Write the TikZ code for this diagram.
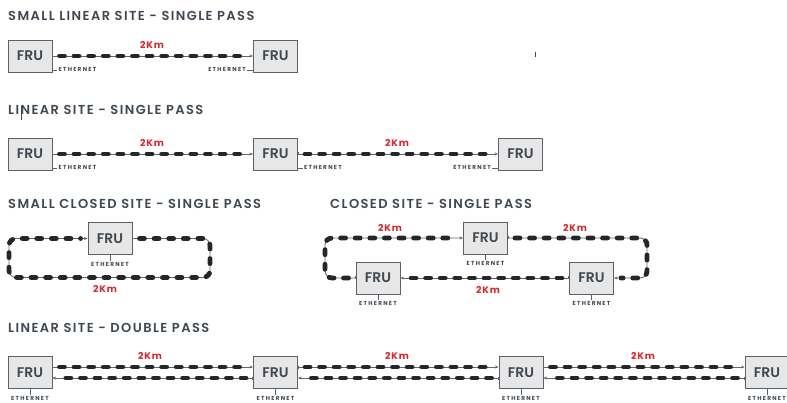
\documentclass[tikz,border=0pt]{standalone}
\usepackage{fontspec}
\setmainfont{Poppins}
\newfontfamily\titlefont[LetterSpace=11]{Poppins SemiBold}
\newfontfamily\frufont{Poppins SemiBold}
\newfontfamily\ethfont[LetterSpace=22]{Poppins}
\newfontfamily\kmfont[LetterSpace=8]{Poppins}
\usetikzlibrary{arrows.meta,positioning}
\definecolor{ink}{HTML}{3F4851}
\definecolor{frame}{HTML}{5A6168}
\definecolor{boxfill}{HTML}{E7E7E7}
\definecolor{wire}{HTML}{5F666C}
\definecolor{kmred}{HTML}{D7262C}

\begin{document}
\begin{tikzpicture}[x=1pt,y=-1pt,
    fru/.style={draw=frame, fill=boxfill, line width=0.9pt, minimum width=44pt,
      minimum height=32pt, inner sep=0pt, text=ink, font=\frufont\fontsize{14}{15}\selectfont},
    title/.style={anchor=base west, inner sep=0pt, text=ink,
      font=\titlefont\fontsize{13}{14}\selectfont},
    eth/.style={inner sep=1pt, text=ink, font=\ethfont\bfseries\fontsize{5.8}{6}\selectfont},
    km/.style={inner sep=0pt, text=kmred, font=\kmfont\bfseries\fontsize{9.5}{10}\selectfont},
    tick/.style={draw=frame, line width=0.7pt},
    cable/.style={draw=wire, line width=0.8pt,
      {Bar[width=3pt,line width=0.6pt]}-{Stealth[length=3.5pt,width=3pt]},
      postaction={draw=black!85, -, line width=4.8pt, line cap=round,
        dash pattern=on 5pt off 9.6pt, shorten <=7pt, shorten >=7pt}},
  ]
  \useasboundingbox (0,0) rectangle (787,403);

  % small linear site
  \node[title] (t1) at (8,21) {SMALL LINEAR SITE - SINGLE PASS};
  \node[fru] (a1) at (30,56) {FRU};
  \node[fru] (a2) at (275.5,56) {FRU};
  \draw[cable] (a1) -- (a2);
  \node[km] (k1) at (152,45) {2Km};
  \node[eth, anchor=west] (ea1) at ([xshift=5pt,yshift=2.5pt]a1.south east) {ETHERNET};
  \node[eth, anchor=east] (ea2) at ([xshift=-6pt,yshift=2.5pt]a2.south west) {ETHERNET};
  \draw[tick] (a1.east |- ea1.west) -- (ea1.west);
  \draw[tick] (ea2.east) -- (a2.west |- ea2.east);
  \draw[ink, line width=0.8pt] (535,52) -- (535,57);

  % linear site
  \node[title] (t2) at (8,115) {LINEAR SITE - SINGLE PASS};
  \draw[ink, line width=0.6pt] (21,106) -- (21,120);
  \node[fru] (b1) at (30,154) {FRU};
  \node[fru] (b2) at (275.5,154) {FRU};
  \node[fru] (b3) at (520.5,154) {FRU};
  \draw[cable] (b1) -- (b2);
  \draw[cable] (b2) -- (b3);
  \node[km] (k2) at (152,143) {2Km};
  \node[km] (k3) at (397,143) {2Km};
  \node[eth, anchor=west] (eb1) at ([xshift=5pt,yshift=2.5pt]b1.south east) {ETHERNET};
  \node[eth, anchor=west] (eb2) at ([xshift=5pt,yshift=2.5pt]b2.south east) {ETHERNET};
  \node[eth, anchor=east] (eb3) at ([xshift=-6pt,yshift=2.5pt]b3.south west) {ETHERNET};
  \draw[tick] (b1.east |- eb1.west) -- (eb1.west);
  \draw[tick] (b2.east |- eb2.west) -- (eb2.west);
  \draw[tick] (eb3.east) -- (b3.west |- eb3.east);

  % small closed site
  \node[title] (t3) at (8,209) {SMALL CLOSED SITE - SINGLE PASS};
  \node[fru] (c1) at (110,238.5) {FRU};
  \draw[cable, rounded corners=7pt] (c1.east) -- (210,238.5) -- (210,277.5)
    -- (9,277.5) -- (9,238.5) -- (c1.west);
  \node[km] (k4) at (105,289) {2Km};
  \node[eth, below=6pt of c1] (ec1) {ETHERNET};
  \draw[tick] (c1.south) -- (ec1.north);

  % closed site
  \node[title] (t4) at (330,209) {CLOSED SITE - SINGLE PASS};
  \node[fru] (d1) at (485.5,238) {FRU};
  \node[fru] (d2) at (378,278) {FRU};
  \node[fru] (d3) at (591.5,278) {FRU};
  \draw[cable, rounded corners=7pt] (d1.east) -- (647,238) -- (647,278) -- (d3.east);
  \draw[cable] (d3.west) -- (d2.east);
  \draw[cable, rounded corners=7pt] (d2.west) -- (325,278) -- (325,238) -- (d1.west);
  \node[km] (k5) at (390,228) {2Km};
  \node[km] (k6) at (575,228) {2Km};
  \node[km] (k7) at (488,290) {2Km};
  \node[eth, below=6pt of d1] (ed1) {ETHERNET};
  \node[eth, below=6pt of d2] (ed2) {ETHERNET};
  \node[eth, below=6pt of d3] (ed3) {ETHERNET};
  \draw[tick] (d1.south) -- (ed1.north);
  \draw[tick] (d2.south) -- (ed2.north);
  \draw[tick] (d3.south) -- (ed3.north);

  % linear site, double pass
  \node[title] (t5) at (8,332) {LINEAR SITE - DOUBLE PASS};
  \foreach \n/\x in {1/30,2/275.5,3/521,4/767}{
    \node[fru] (e\n) at (\x,372.5) {FRU};
    \node[eth, below=6pt of e\n] (ee\n) {ETHERNET};
    \draw[tick] (e\n.south) -- (ee\n.north);
  }
  \foreach \a/\b in {1/2,2/3,3/4}{
    \draw[cable] ([yshift=5.5pt]e\a.east) -- ([yshift=5.5pt]e\b.west);
    \draw[cable] ([yshift=-5.5pt]e\b.west) -- ([yshift=-5.5pt]e\a.east);
  }
  \node[km] (k8) at (150,356) {2Km};
  \node[km] (k9) at (397,356) {2Km};
  \node[km] (k10) at (643,356) {2Km};
\end{tikzpicture}
\end{document}
